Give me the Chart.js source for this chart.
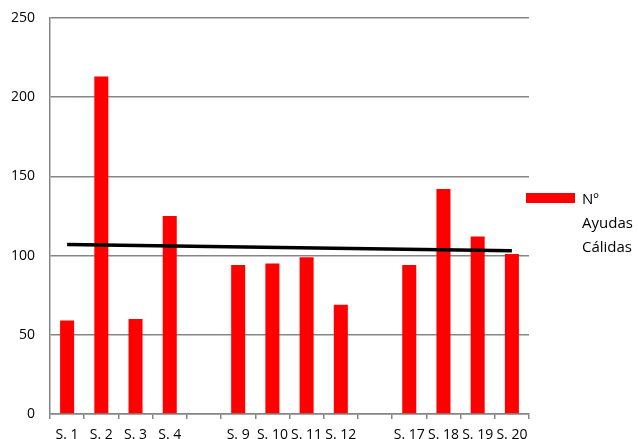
<!DOCTYPE html>
<html>
<head>
<meta charset="utf-8">
<script src="https://cdn.jsdelivr.net/npm/chart.js@4/dist/chart.umd.min.js"></script>
<style>
    html, body { margin: 0; padding: 0; background: #fff; overflow: hidden; }
    #wrap { position: relative; width: 638px; height: 439px; }
    #legend { position: absolute; left: 526px; top: 186px; font-family: "Open Sans", sans-serif; font-size: 15px; line-height: 24px; color: #000; }
    #legend .swatch { position: absolute; left: 0; top: 7px; width: 49px; height: 10px; background: #ff0000; }
    #legend .text { position: absolute; left: 56px; top: 0; white-space: nowrap; }
</style>
</head>
<body>
<div id="wrap">
    <canvas id="chart" width="638" height="439"></canvas>
    <div id="legend">
        <div class="swatch"></div>
        <div class="text">Nº<br>Ayudas<br>Cálidas</div>
    </div>
</div>
<script>
// weeks shown on the axis, blank slots where weeks are missing
const categories = ['S. 1', 'S. 2', 'S. 3', 'S. 4', '', 'S. 9', 'S. 10', 'S. 11', 'S. 12', '', 'S. 17', 'S. 18', 'S. 19', 'S. 20'];
const ayudas = [59, 213, 60, 125, null, 94, 95, 99, 69, null, 94, 142, 112, 101];
// trend line, only its two ends
const trend = [107, null, null, null, null, null, null, null, null, null, null, null, null, 103];
const yTicks = [0, 50, 100, 150, 200, 250];

const gridColor = '#868686';

new Chart(document.getElementById('chart').getContext('2d'), {
    data: {
        labels: categories,
        datasets: [
            {
                type: 'line',
                label: 'Tendencia',
                data: trend,
                borderColor: '#000000',
                borderWidth: 3.5,
                pointRadius: 0,
                spanGaps: true,
                order: 0
            },
            {
                type: 'bar',
                label: 'Nº Ayudas Cálidas',
                data: ayudas,
                backgroundColor: '#ff0000',
                barPercentage: 0.41,
                categoryPercentage: 1,
                order: 1
            }
        ]
    },
    options: {
        responsive: false,
        animation: false,
        layout: { padding: { top: 18, right: 109, left: 0, bottom: 0 } },
        plugins: {
            legend: { display: false },
            tooltip: { enabled: false }
        },
        scales: {
            x: {
                grid: {
                    offset: true,
                    drawOnChartArea: false,
                    drawTicks: true,
                    tickLength: 5,
                    color: gridColor,
                    lineWidth: 1.5
                },
                border: { color: gridColor, width: 1.5 },
                ticks: {
                    autoSkip: false,
                    maxRotation: 0,
                    minRotation: 0,
                    padding: 8,
                    color: '#000',
                    font: { family: 'Open Sans', size: 14 }
                },
                afterFit: function(scale) {
                    scale.height = 25;
                    scale.paddingLeft = 0;
                    scale.paddingRight = 0;
                }
            },
            y: {
                min: 0,
                max: 250,
                afterBuildTicks: function(scale) {
                    scale.ticks = yTicks.map(v => ({ value: v }));
                },
                grid: {
                    drawTicks: false,
                    color: gridColor,
                    lineWidth: 1.5
                },
                border: { color: gridColor, width: 1.5 },
                ticks: {
                    padding: 15,
                    color: '#000',
                    font: { family: 'Open Sans', size: 14 }
                },
                afterFit: function(scale) {
                    scale.width = 50;
                    scale.paddingTop = 0;
                    scale.paddingBottom = 0;
                }
            }
        }
    }
});
</script>
</body>
</html>
